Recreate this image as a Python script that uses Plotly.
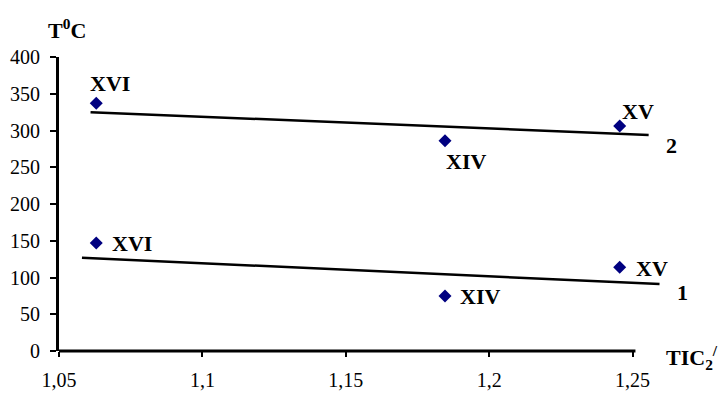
import plotly.graph_objects as go

# Data
x_vals = [1.063, 1.1846, 1.2455]
names = ["XVI", "XIV", "XV"]
series1 = [147, 75, 114]
series2 = [337, 286, 306]
trend1_x = [1.058, 1.2594]
trend1_y = [127, 91]
trend2_x = [1.061, 1.2556]
trend2_y = [325, 294]
x_ticks = [1.05, 1.1, 1.15, 1.2, 1.25]
x_tick_text = ["1,05", "1,1", "1,15", "1,2", "1,25"]
y_ticks = [0, 50, 100, 150, 200, 250, 300, 350, 400]
x_axis_end = 1.251

FONT = "Liberation Serif, Times New Roman, serif"
fig = go.Figure()
fig.add_trace(go.Scatter(x=trend2_x, y=trend2_y, mode="lines",
                         line=dict(color="black", width=2.5), showlegend=False))
fig.add_trace(go.Scatter(x=trend1_x, y=trend1_y, mode="lines",
                         line=dict(color="black", width=2.5), showlegend=False))
fig.add_trace(go.Scatter(x=x_vals, y=series2, mode="markers",
                         marker=dict(symbol="diamond", color="#000080", size=10), showlegend=False))
fig.add_trace(go.Scatter(x=x_vals, y=series1, mode="markers",
                         marker=dict(symbol="diamond", color="#000080", size=10), showlegend=False))

lab_font = dict(family=FONT, size=22, color="black")
ann = []
# series 2 labels
s2_shift = [(14, -20, "center"), (21, 21, "center"), (18, -15, "center")]
for xv, yv, n, (dx, dy, xa) in zip(x_vals, series2, names, s2_shift):
    ann.append(dict(x=xv, y=yv, text=f"<b>{n}</b>", showarrow=False, xshift=dx, yshift=-dy,
                    xanchor=xa, font=lab_font))
# series 1 labels
s1_shift = [(14, 1), (13, 1), (14, 1)]
for xv, yv, n, (dx, dy) in zip(x_vals, series1, names, s1_shift):
    ann.append(dict(x=xv, y=yv, text=f"<b>{n}</b>", showarrow=False, xshift=dx, yshift=-dy,
                    xanchor="left", font=lab_font))
ann.append(dict(x=trend2_x[1], y=trend2_y[1], text="<b>2</b>", showarrow=False, xshift=23, yshift=-11,
                font=lab_font))
ann.append(dict(x=trend1_x[1], y=trend1_y[1], text="<b>1</b>", showarrow=False, xshift=23, yshift=-8,
                font=lab_font))
ann.append(dict(xref="paper", yref="paper", x=-0.021, y=1.04, text="<b>T<sup>0</sup>C</b>",
                showarrow=False, xanchor="left", yanchor="bottom", font=lab_font))
ann.append(dict(xref="paper", yref="paper", x=1.087, y=0.0, text="<b>TIC<sub>2</sub><sup>/</sup></b>",
                showarrow=False, xanchor="right", yanchor="middle", yshift=-6, font=lab_font))

fig.update_layout(
    width=722, height=396,
    margin=dict(l=59, r=55, t=57, b=45),
    plot_bgcolor="white", paper_bgcolor="white",
    font=dict(family=FONT, size=20, color="black"),
    annotations=ann,
    shapes=[dict(type="line", xref="x", yref="paper", x0=x_ticks[0], x1=x_axis_end, y0=0, y1=0,
                 line=dict(color="black", width=3))],
    xaxis=dict(range=[1.05, 1.262], tickvals=x_ticks, ticktext=x_tick_text, automargin=False,
               showgrid=False, zeroline=False, showline=False,
               ticks="outside", ticklen=5, tickwidth=2, tickcolor="black", ticklabelstandoff=6),
    yaxis=dict(range=[0, 400], tickvals=y_ticks, showgrid=False, zeroline=False, automargin=False,
               showline=True, linecolor="black", linewidth=3,
               ticks="outside", ticklen=6, tickwidth=2, tickcolor="black", ticklabelstandoff=6),
)
fig.write_html("out.html", config={"displayModeBar": False},
               post_script="document.body.style.margin='0';document.body.style.overflow='hidden';")
